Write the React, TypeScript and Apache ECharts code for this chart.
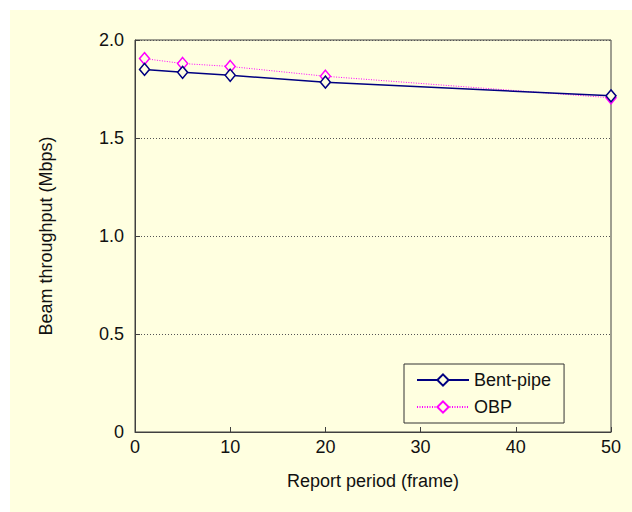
import React, { useEffect, useRef } from "react";
import * as echarts from "echarts";

const periods = [1, 5, 10, 20, 50];
const bentPipe = [1.85, 1.835, 1.82, 1.785, 1.715];
const obp = [1.905, 1.88, 1.865, 1.815, 1.705];
const seriesNames = ["Bent-pipe", "OBP"];
const xTitle = "Report period (frame)";
const yTitle = "Beam throughput (Mbps)";

const FONT = "'Liberation Sans', Arial, sans-serif";
const BG = "#FFFFE0";
const FS = 18;

export default function App() {
  const ref = useRef<HTMLDivElement>(null);
  useEffect(() => {
    if (!ref.current) return;
    const chart = echarts.init(ref.current, undefined, { renderer: "svg" });
    const pair = (ys: number[]) => periods.map((x, i) => [x, ys[i]]);
    chart.setOption({
      animation: false,
      backgroundColor: "transparent",
      textStyle: { fontFamily: FONT },
      grid: {
        left: 135,
        right: 21,
        top: 40,
        bottom: 80,
        show: true,
        borderColor: "#404040",
        borderWidth: 1,
        backgroundColor: "transparent",
      },
      legend: {
        orient: "vertical",
        left: 404,
        top: 364,
        padding: [7, 13, 7, 12],
        itemGap: 9,
        itemWidth: 52,
        itemHeight: 14,
        borderColor: "#333",
        borderWidth: 1,
        backgroundColor: BG,
        textStyle: { fontFamily: FONT, fontSize: FS, color: "#111" },
        data: seriesNames,
      },
      xAxis: {
        type: "value",
        min: 0,
        max: 50,
        interval: 10,
        name: xTitle,
        nameLocation: "middle",
        nameGap: 40,
        nameTextStyle: { fontFamily: FONT, fontSize: FS, color: "#111" },
        axisLine: { show: true, lineStyle: { color: "#404040", width: 1 } },
        axisTick: { show: true, inside: true, length: 5, lineStyle: { color: "#404040" } },
        axisLabel: { fontFamily: FONT, fontSize: FS, color: "#111", margin: 6 },
        splitLine: { show: false },
      },
      yAxis: {
        type: "value",
        min: 0,
        max: 2,
        interval: 0.5,
        name: yTitle,
        nameLocation: "middle",
        nameGap: 80,
        nameTextStyle: { fontFamily: FONT, fontSize: FS, color: "#111" },
        axisLine: { show: true, lineStyle: { color: "#404040", width: 1 } },
        axisTick: { show: true, inside: true, length: 5, lineStyle: { color: "#404040" } },
        axisLabel: {
          fontFamily: FONT,
          fontSize: FS,
          color: "#111",
          margin: 11,
          formatter: (v: number) => (v === 0 ? "0" : v.toFixed(1)),
        },
        splitLine: { show: true, lineStyle: { color: "#555", type: [1, 2], width: 1 } },
      },
      series: [
        {
          name: seriesNames[0],
          type: "line",
          data: pair(bentPipe),
          symbol: "diamond",
          symbolSize: [10, 12],
          lineStyle: { color: "#000080", width: 1.5 },
          itemStyle: { color: BG, borderColor: "#000080", borderWidth: 1.5 },
          z: 3,
        },
        {
          name: seriesNames[1],
          type: "line",
          data: pair(obp),
          symbol: "diamond",
          symbolSize: [10, 12],
          lineStyle: { color: "#FF00FF", width: 1, type: [1, 1.5] },
          itemStyle: { color: BG, borderColor: "#FF00FF", borderWidth: 1.5 },
          z: 2,
        },
      ],
    });
    return () => chart.dispose();
  }, []);
  return (
    <div style={{ position: "absolute", left: 0, top: 0, width: 632, height: 512, background: "#fff" }}>
      <div style={{ position: "absolute", left: 10, top: 10, width: 622, height: 502, background: BG }} />
      <div ref={ref} style={{ position: "absolute", left: 0, top: 0, width: 632, height: 512 }} />
    </div>
  );
}
